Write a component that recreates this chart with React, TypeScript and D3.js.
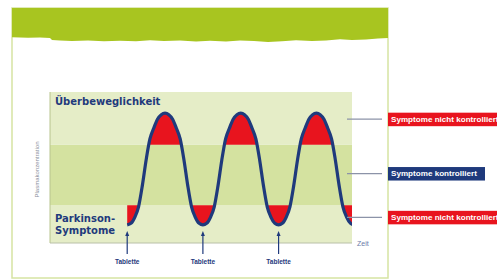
import React from 'react';
import * as d3 from 'd3';

// time axis (tablet intervals) and plasma concentration (0-100)
const zeit = [
  0, 0.05, 0.1, 0.15, 0.2, 0.25, 0.3, 0.35, 0.4, 0.45,
  0.5, 0.55, 0.6, 0.65, 0.7, 0.75, 0.8, 0.85, 0.9, 0.95,
  1.0, 1.05, 1.1, 1.15, 1.2, 1.25, 1.3, 1.35, 1.4, 1.45,
  1.5, 1.55, 1.6, 1.65, 1.7, 1.75, 1.8, 1.85, 1.9, 1.95,
  2.0, 2.05, 2.1, 2.15, 2.2, 2.25, 2.3, 2.35, 2.4, 2.45,
  2.5, 2.55, 2.6, 2.65, 2.7, 2.75, 2.8, 2.85, 2.9, 2.95, 3.0,
];
const plasma = [
  12, 13, 17, 24, 38, 55, 69, 76, 82, 85,
  86, 85, 82, 76, 69, 55, 38, 24, 17, 13,
  12, 13, 17, 24, 38, 55, 69, 76, 82, 85,
  86, 85, 82, 76, 69, 55, 38, 24, 17, 13,
  12, 13, 17, 24, 38, 55, 69, 76, 82, 85,
  86, 85, 82, 76, 69, 55, 38, 24, 17, 13, 12,
];

const tablettenZeit = [0, 1, 2];
const zonenGrenzen = [0, 25, 65, 100];
const labelHoehe = [82, 46, 17];
const labelTexte = ['Symptome nicht kontrolliert', 'Symptome kontrolliert', 'Symptome nicht kontrolliert'];

const W = 497;
const H = 280;
const plot = { left: 50, right: 352, top: 92, bottom: 243 };

const NAVY = '#1f3a7c';
const RED = '#e8141e';

const App: React.FC = () => {
  const x = d3.scaleLinear().domain([-1.02, 2.97]).range([plot.left, plot.right]);
  const y = d3.scaleLinear().domain([0, 100]).range([plot.bottom, plot.top]);

  const pts = zeit.map((t, i) => ({ t, v: plasma[i] }));

  const line = d3.line<{ t: number; v: number }>()
    .x(d => x(d.t))
    .y(d => y(d.v))
    .curve(d3.curveMonotoneX);

  const areaBelow = d3.area<{ t: number; v: number }>()
    .x(d => x(d.t))
    .y0(y(0))
    .y1(d => y(d.v))
    .curve(d3.curveMonotoneX);

  const areaAbove = d3.area<{ t: number; v: number }>()
    .x(d => x(d.t))
    .y0(y(100))
    .y1(d => y(d.v))
    .curve(d3.curveMonotoneX);

  const bandFarben = ['#e5edc7', '#d4e2a0', '#e5edc7'];

  // torn paper edge of the header
  const kante = 'M12,8 L388,8 L388,38 L378,38.5 L366,39.5 L352,40 L340,39.2 L326,40.6 L312,41 L296,40.2 L282,41.2 L268,42 L254,41 L240,40.6 L226,41.4 L210,40.8 L196,41.5 L180,40.4 L164,41 L150,40.2 L136,41.3 L120,40.7 L104,41.2 L88,40.4 L72,41 L60,40.6 L52,40 L50,38 L40,37.6 L28,37.8 L12,37.2 Z';

  return (
    <svg width={W} height={H} style={{ position: 'absolute', left: 0, top: 0, background: '#fff' }}
      fontFamily="'Liberation Sans', Arial, sans-serif">
      <defs>
        <clipPath id="clipOben">
          <rect x={plot.left} y={plot.top} width={plot.right - plot.left} height={y(zonenGrenzen[2]) - plot.top} />
        </clipPath>
        <clipPath id="clipUnten">
          <rect x={plot.left} y={y(zonenGrenzen[1])} width={plot.right - plot.left} height={plot.bottom - y(zonenGrenzen[1])} />
        </clipPath>
        <clipPath id="clipPlot">
          <rect x={plot.left} y={plot.top - 5} width={plot.right - plot.left} height={plot.bottom - plot.top + 10} />
        </clipPath>
      </defs>

      {/* frame + header */}
      <rect x={12} y={8} width={376} height={270} fill="#fff" stroke="#d6e4a2" strokeWidth={1.5} />
      <path d={kante} fill="#a8c520" />

      {/* bands */}
      {bandFarben.map((c, i) => (
        <rect key={i} x={plot.left} width={plot.right - plot.left}
          y={y(zonenGrenzen[i + 1])} height={y(zonenGrenzen[i]) - y(zonenGrenzen[i + 1])} fill={c} />
      ))}

      {/* axes */}
      <line x1={plot.left} x2={plot.left} y1={plot.top} y2={plot.bottom} stroke="#b8c48e" strokeWidth={1} />
      <line x1={plot.left} x2={plot.right} y1={plot.bottom} y2={plot.bottom} stroke="#b9c0a8" strokeWidth={1} />

      {/* red zones */}
      <g clipPath="url(#clipPlot)">
        <path d={areaBelow(pts) || ''} fill={RED} clipPath="url(#clipOben)" />
        <path d={areaAbove(pts) || ''} fill={RED} clipPath="url(#clipUnten)" />
        <path d={line(pts) || ''} fill="none" stroke={NAVY} strokeWidth={3.2} />
      </g>

      {/* zone labels */}
      <g fontFamily="'DejaVu Sans', sans-serif" fontSize={10} fontWeight="bold" fill={NAVY}>
        <text x={55} y={105}>Überbeweglichkeit</text>
        <text x={55} y={222}>Parkinson-</text>
        <text x={55} y={234}>Symptome</text>
      </g>

      <text transform={`translate(39,${(plot.top + plot.bottom) / 2 + 2}) rotate(-90)`} textAnchor="middle"
        fontSize={6} fill="#8a8f9c">Plasmakonzentration</text>
      <text x={357} y={246} fontSize={7} fill="#6a7aa8">Zeit</text>

      {/* tablet arrows */}
      {tablettenZeit.map(t => (
        <g key={t}>
          <line x1={x(t)} x2={x(t)} y1={235} y2={254} stroke={NAVY} strokeWidth={1.2} />
          <path d={`M${x(t) - 2},${236} L${x(t)},${231} L${x(t) + 2},${236} Z`} fill={NAVY} />
          <text x={x(t)} y={264} textAnchor="middle" fontSize={6.5} fontWeight="bold" fill={NAVY}>Tablette</text>
        </g>
      ))}

      {/* right side labels */}
      {labelHoehe.map((v, i) => {
        const yy = y(v);
        const rot = i !== 1;
        return (
          <g key={i}>
            <line x1={347} x2={382} y1={yy} y2={yy} stroke="#8c93a8" strokeWidth={1.2} />
            <rect x={388} y={yy - 6.5} width={rot ? 115 : 97} height={13.5} fill={rot ? RED : NAVY} />
            <text x={391} y={yy + 2.8} fontSize={8.1} fontWeight="bold" fill="#fff">{labelTexte[i]}</text>
          </g>
        );
      })}
    </svg>
  );
};

export default App;
